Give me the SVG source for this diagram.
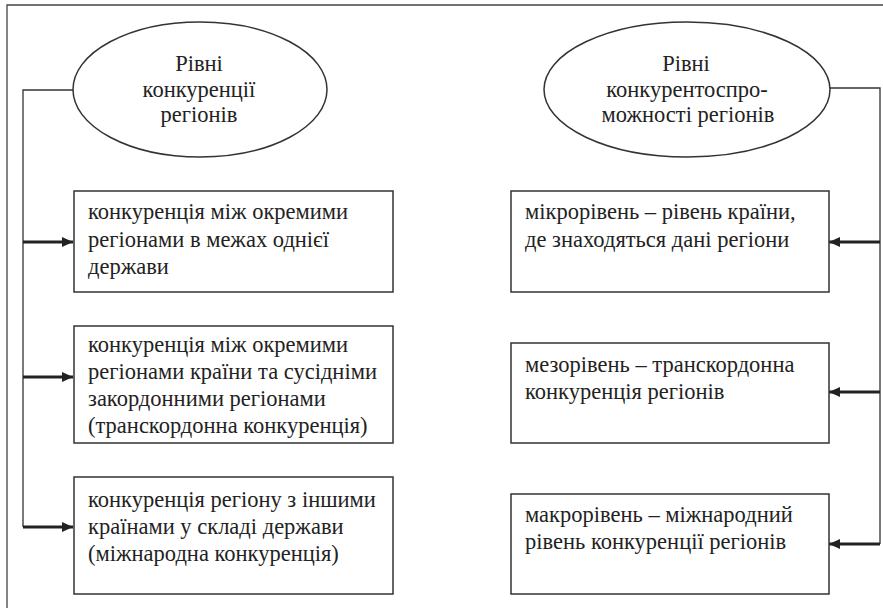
<svg xmlns="http://www.w3.org/2000/svg" width="883" height="608" viewBox="0 0 883 608">
<style>
.frame{fill:none;stroke:#444;stroke-width:1.3}
.shape{fill:#fff;stroke:#333;stroke-width:1.5}
.thin{fill:none;stroke:#333;stroke-width:1.3}
.arr{fill:none;stroke:#222;stroke-width:3}
.t{font-family:'Liberation Serif','DejaVu Serif',serif;font-size:22.5px;fill:#222}
.c{text-anchor:middle}
</style>
<defs>
<marker id="ah" markerUnits="userSpaceOnUse" markerWidth="12" markerHeight="12" refX="11" refY="6" orient="auto">
<path d="M0,1 L11,6 L0,11 Z" fill="#222"/>
</marker>
</defs>
<rect width="883" height="608" fill="#fff"/>
<path class="frame" d="M7,608 V5 H883"/>
<g id="connectors">
<path class="thin" d="M73,90 H23 V527"/>
<path class="arr" d="M23,242 H73" marker-end="url(#ah)"/>
<path class="arr" d="M23,377 H73" marker-end="url(#ah)"/>
<path class="arr" d="M23,527 H73" marker-end="url(#ah)"/>
<path class="thin" d="M830,88 H880 V544"/>
<path class="arr" d="M880,242 H829" marker-end="url(#ah)"/>
<path class="arr" d="M880,392 H829" marker-end="url(#ah)"/>
<path class="arr" d="M880,544 H829" marker-end="url(#ah)"/>
</g>
<g id="ellipse-left" class="t">
<ellipse class="shape" cx="200" cy="89.5" rx="127" ry="67.5"/>
<text class="c" x="199" y="71">Рівні</text>
<text class="c" x="199" y="97">конкуренції</text>
<text class="c" x="199" y="122">регіонів</text>
</g>
<g id="ellipse-right" class="t">
<ellipse class="shape" cx="687" cy="89.5" rx="143" ry="67.5"/>
<text class="c" x="686" y="71">Рівні</text>
<text class="c" x="687" y="97">конкурентоспро-</text>
<text class="c" x="688" y="122">можності регіонів</text>
</g>
<g id="box-l1" class="t">
<rect class="shape" x="74" y="191" width="319" height="101"/>
<text x="88" y="219">конкуренція між окремими</text>
<text x="88" y="247">регіонами в межах однієї</text>
<text x="88" y="274">держави</text>
</g>
<g id="box-l2" class="t">
<rect class="shape" x="74" y="326" width="319" height="117"/>
<text x="88" y="352">конкуренція між окремими</text>
<text x="88" y="379">регіонами країни та сусідніми</text>
<text x="88" y="406">закордонними регіонами</text>
<text x="88" y="433">(транскордонна конкуренція)</text>
</g>
<g id="box-l3" class="t">
<rect class="shape" x="74" y="477" width="319" height="117"/>
<text x="88" y="507">конкуренція регіону з іншими</text>
<text x="88" y="534">країнами у складі держави</text>
<text x="88" y="561">(міжнародна конкуренція)</text>
</g>
<g id="box-r1" class="t">
<rect class="shape" x="511" y="191" width="318" height="101"/>
<text x="525" y="219">мікрорівень – рівень країни,</text>
<text x="525" y="247">де знаходяться дані регіони</text>
</g>
<g id="box-r2" class="t">
<rect class="shape" x="511" y="343" width="318" height="100"/>
<text x="525" y="372">мезорівень – транскордонна</text>
<text x="525" y="399">конкуренція регіонів</text>
</g>
<g id="box-r3" class="t">
<rect class="shape" x="511" y="494" width="318" height="100"/>
<text x="525" y="522">макрорівень – міжнародний</text>
<text x="525" y="549">рівень конкуренції регіонів</text>
</g>
</svg>
